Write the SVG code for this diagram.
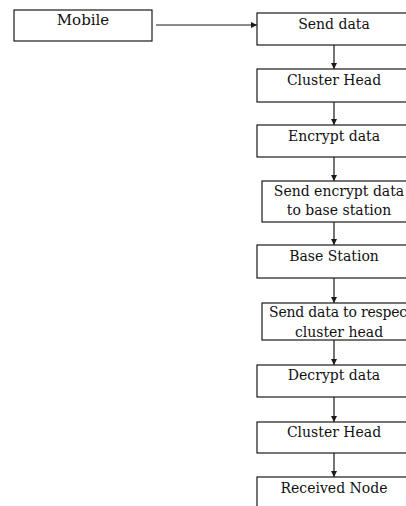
<svg xmlns="http://www.w3.org/2000/svg" width="406" height="506" viewBox="0 0 406 506">
<style>
.box{fill:#fff;stroke:#1a1a1a;stroke-width:1.2}
.t{font-family:"DejaVu Serif","Liberation Serif",serif;font-size:14px;fill:#111;text-anchor:middle}
.c{stroke:#1a1a1a;stroke-width:1.2;fill:none;marker-end:url(#ah)}
</style>
<defs>
<marker id="ah" viewBox="0 0 10 10" refX="10" refY="5" markerWidth="6" markerHeight="6" markerUnits="userSpaceOnUse" orient="auto">
<path d="M0,0 L10,5 L0,10 z" fill="#1a1a1a"/>
</marker>
</defs>
<rect width="406" height="506" fill="#fff"/>
<g id="connectors">
<line class="c" x1="156" y1="25" x2="257" y2="25"/>
<line class="c" x1="334" y1="45" x2="334" y2="69"/>
<line class="c" x1="334" y1="102" x2="334" y2="125"/>
<line class="c" x1="334" y1="157" x2="334" y2="181"/>
<line class="c" x1="334" y1="222" x2="334" y2="245"/>
<line class="c" x1="334" y1="278" x2="334" y2="303"/>
<line class="c" x1="334" y1="340" x2="334" y2="365"/>
<line class="c" x1="334" y1="397" x2="334" y2="422"/>
<line class="c" x1="334" y1="453" x2="334" y2="477"/>
</g>
<g id="mobile"><rect class="box" x="14" y="10" width="138" height="31"/><text class="t" x="83" y="25" style="font-size:15px">Mobile</text></g>
<g id="send-data"><rect class="box" x="257" y="13" width="160" height="32"/><text class="t" x="334" y="29">Send data</text></g>
<g id="cluster-head-1"><rect class="box" x="257" y="69" width="160" height="33"/><text class="t" x="334" y="85">Cluster Head</text></g>
<g id="encrypt-data"><rect class="box" x="257" y="125" width="160" height="32"/><text class="t" x="334" y="141">Encrypt data</text></g>
<g id="send-encrypt"><rect class="box" x="262" y="181" width="160" height="41"/><text class="t" x="339" y="196">Send encrypt data</text><text class="t" x="339" y="215">to base station</text></g>
<g id="base-station"><rect class="box" x="257" y="245" width="160" height="33"/><text class="t" x="334" y="261">Base Station</text></g>
<g id="send-respect"><rect class="box" x="262" y="303" width="160" height="37"/><text class="t" x="269" y="317" style="text-anchor:start;letter-spacing:-0.2px">Send data to respec</text><text class="t" x="339" y="337">cluster head</text></g>
<g id="decrypt-data"><rect class="box" x="257" y="365" width="160" height="32"/><text class="t" x="334" y="380">Decrypt data</text></g>
<g id="cluster-head-2"><rect class="box" x="257" y="422" width="160" height="31"/><text class="t" x="334" y="437">Cluster Head</text></g>
<g id="received-node"><rect class="box" x="257" y="477" width="160" height="40"/><text class="t" x="334" y="493">Received Node</text></g>
</svg>
